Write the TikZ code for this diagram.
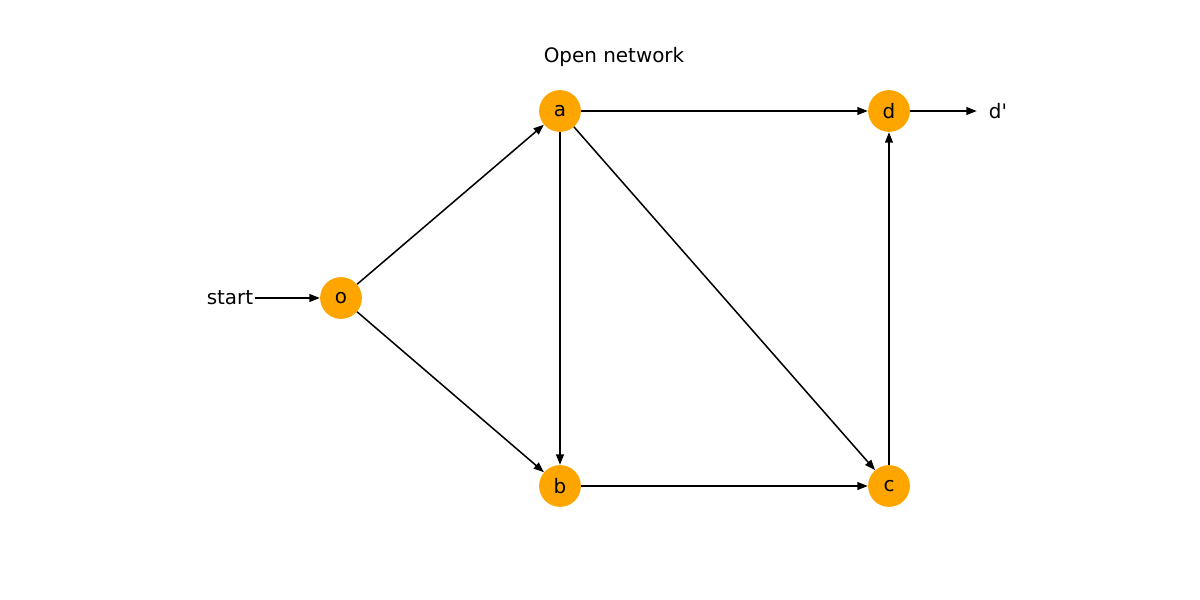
\documentclass[tikz,border=0pt]{standalone}
\usepackage{fontspec}
\setmainfont{DejaVu Sans}[Ligatures=TeXOff]
\usepackage{tikz}
\usetikzlibrary{arrows.meta}
\usetikzlibrary{positioning}

\begin{document}
\begin{tikzpicture}[x=0.0254cm, y=-0.0254cm,
		state/.style={circle, fill={rgb,255:red,255;green,165;blue,0}, inner sep=0pt, minimum size=30.2pt, font=\fontsize{14.4}{17}\selectfont},
		ghost/.style={circle, inner sep=0pt, minimum size=30.2pt, font=\fontsize{14.4}{17}\selectfont},
		edge/.style={-{Triangle[length=7.5pt, width=5.6pt]}, line width=1.1pt}]
					\useasboundingbox (0, 0) rectangle (1200, 600);
					\node at (614, 57) {\fontsize{14.4}{17}\selectfont Open network};

					\node[ghost] (start) at (230, 298) {start};
					\node[state] (o) at (341, 298) {o};
					\node[state] (a) at (560, 111) {a};
					\node[state] (b) at (560, 486) {b};
					\node[state] (c) at (889, 486) {c};
					\node[state] (d) at (889, 111) {d};
					\node[ghost] (dp) at (998, 111) {d'};

					\draw[edge] (start) -- (o);
					\draw[edge] (o) -- (a);
					\draw[edge] (o) -- (b);
					\draw[edge] (a) -- (d);
					\draw[edge] (a) -- (b);
					\draw[edge] (a) -- (c);
					\draw[edge] (b) -- (c);
					\draw[edge] (c) -- (d);
					\draw[edge] (d) -- (dp);
                \end{tikzpicture}
\end{document}
